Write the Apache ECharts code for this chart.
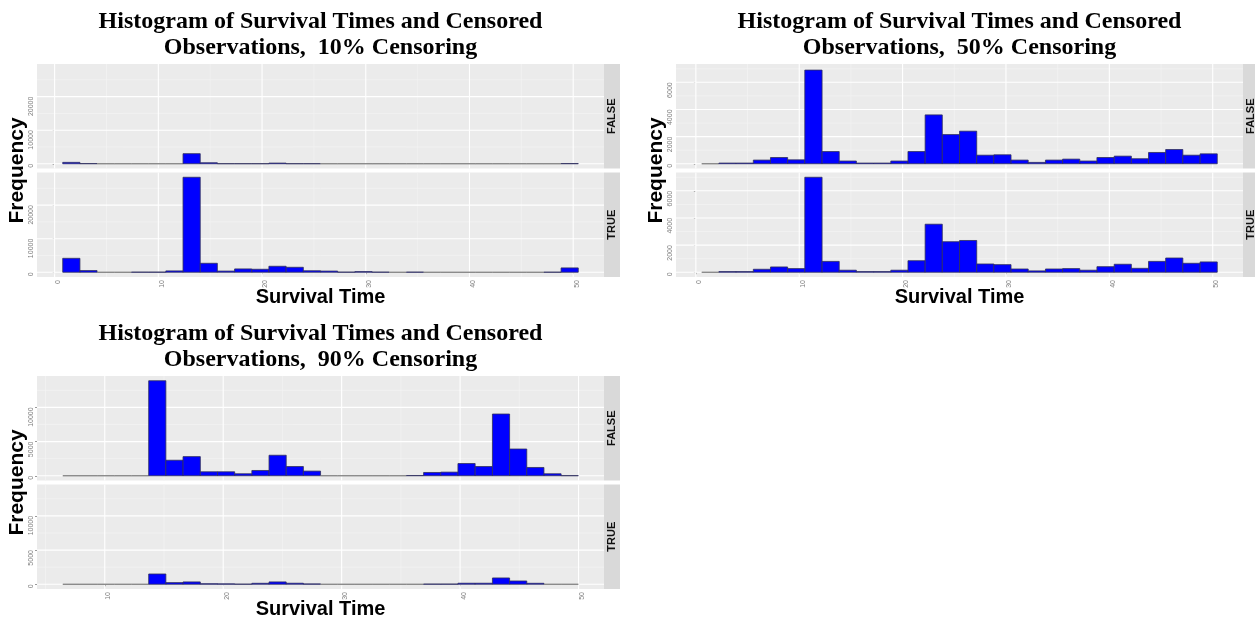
<!DOCTYPE html>
<html><head><meta charset="utf-8">
<script src="https://cdn.jsdelivr.net/npm/echarts@6/dist/echarts.min.js"></script>
<style>html,body{margin:0;padding:0;background:#fff}#c{width:1255px;height:622px}</style>
</head><body><div id="c"></div>
<script>
// ---------- data ----------
const edges10 = [0.78,2.44,4.09,5.75,7.41,9.07,10.72,12.38,14.04,15.69,17.35,19.01,20.66,22.32,23.98,25.64,27.29,28.95,30.61,32.26,33.92,35.58,37.23,38.89,40.55,42.21,43.86,45.52,47.18,48.83,50.49];
const false10 = [410,50,0,0,0,0,0,3000,300,20,20,20,200,20,20,0,0,0,0,0,0,0,0,0,0,0,0,0,0,60];
const true10  = [4150,500,0,0,50,50,400,28300,2670,350,990,890,1780,1480,450,350,50,200,50,0,50,0,0,0,0,0,0,0,30,1290];

const edges50 = [0.57,2.23,3.90,5.56,7.22,8.88,10.54,12.21,13.87,15.53,17.19,18.86,20.52,22.18,23.84,25.51,27.17,28.83,30.49,32.15,33.82,35.48,37.14,38.80,40.47,42.13,43.79,45.45,47.11,48.78,50.44];
const false50 = [0,50,50,270,460,290,6900,900,200,50,50,200,900,3600,2150,2400,630,660,270,100,270,340,200,460,560,370,830,1050,630,730];
const true50  = [0,50,50,220,390,270,7000,800,150,50,50,150,850,3540,2250,2340,610,560,240,100,240,270,150,410,590,290,800,1050,660,760];

const edges90 = [6.46,7.91,9.36,10.81,12.26,13.71,15.16,16.61,18.07,19.52,20.97,22.42,23.87,25.32,26.77,28.22,29.67,31.12,32.57,34.02,35.47,36.92,38.37,39.82,41.27,42.73,44.18,45.63,47.08,48.53,49.98];
const false90 = [0,0,0,0,0,13900,2270,2800,580,580,290,770,3000,1350,680,0,0,0,0,0,30,480,530,1790,1350,9030,3910,1210,290,20];
const true90  = [0,0,0,0,0,1500,240,340,80,60,20,140,340,150,50,0,0,0,0,0,0,30,30,150,150,920,480,140,0,0];

const xTicks10 = [0,10,20,30,40,50], xMinor10 = [5,15,25,35,45];
const yTicks10 = [0,10000,20000],   yMinor10 = [5000,15000,25000];
const xTicks50 = [0,10,20,30,40,50], xMinor50 = [5,15,25,35,45];
const yTicks50 = [0,2000,4000,6000], yMinor50 = [1000,3000,5000,7000];
const xTicks90 = [10,20,30,40,50],   xMinor90 = [5,15,25,35,45];
const yTicks90 = [0,5000,10000],     yMinor90 = [2500,7500,12500];

const facetLabels = ['FALSE','TRUE'];
const titleLine1 = 'Histogram of Survival Times and Censored';
const titles2 = ['Observations,  10% Censoring','Observations,  50% Censoring','Observations,  90% Censoring'];
const xName = 'Survival Time', yName = 'Frequency';

// ---------- layout ----------
const panels = [
  {edges:edges10, f:false10, t:true10, xr:[-1.70,52.97], yr:[-1415,29715], xT:xTicks10, xM:xMinor10, yT:yTicks10, yM:yMinor10, left:37, top:64, t2:titles2[0]},
  {edges:edges50, f:false50, t:true50, xr:[-1.92,52.93], yr:[-350,7350],   xT:xTicks50, xM:xMinor50, yT:yTicks50, yM:yMinor50, left:676, top:64, t2:titles2[1]},
  {edges:edges90, f:false90, t:true90, xr:[4.28,52.15],  yr:[-695,14595],  xT:xTicks90, xM:xMinor90, yT:yTicks90, yM:yMinor90, left:37, top:376, t2:titles2[2]}
];
const PW = 567, PH = 104.5, GAP = 4, STRIP = 16;
const grids = [], xAxes = [], yAxes = [], series = [], graphics = [];
const tickColor = '#7f7f7f';
const plain = v => String(v);

function hLine(color, w){
  return function(params, api){
    const cs = params.coordSys; const y = api.coord([api.value(0), api.value(1)])[1];
    return {type:'line', shape:{x1:cs.x, y1:y, x2:cs.x+cs.width, y2:y}, style:{stroke:color, lineWidth:w}};
  };
}
function vLine(color, w){
  return function(params, api){
    const cs = params.coordSys; const x = api.coord([api.value(0), api.value(1)])[0];
    return {type:'line', shape:{x1:x, y1:cs.y, x2:x, y2:cs.y+cs.height}, style:{stroke:color, lineWidth:w}};
  };
}
function barRender(params, api){
  const p0 = api.coord([api.value(0), 0]);
  const p1 = api.coord([api.value(1), api.value(2)]);
  return {type:'rect', shape:{x:p0[0], y:p1[1], width:p1[0]-p0[0], height:p0[1]-p1[1]},
          style:{fill:'#0000FF', stroke:api.value(2) > 0 ? '#30305a' : '#777777', lineWidth:0.8}};
}

panels.forEach((p, pi) => {
  [p.f, p.t].forEach((counts, fi) => {
    const gi = grids.length;
    const top = p.top + fi*(PH+GAP);
    const bottom = fi === 1;
    grids.push({left:p.left, top:top, width:PW, height:PH, show:true, backgroundColor:'#EBEBEB', borderWidth:0, containLabel:false});
    xAxes.push({gridIndex:gi, type:'value', min:p.xr[0], max:p.xr[1],
      axisLine:{show:false}, splitLine:{show:false},
      axisTick:{show:bottom, customValues:p.xT, length:2, lineStyle:{color:tickColor, width:0.8}},
      axisLabel:{show:bottom, customValues:p.xT, rotate:90, verticalAlign:'top', fontSize:7, color:tickColor, margin:3, fontFamily:'Liberation Sans', formatter:plain}});
    yAxes.push({gridIndex:gi, type:'value', min:p.yr[0], max:p.yr[1],
      axisLine:{show:false}, splitLine:{show:false},
      axisTick:{show:true, customValues:p.yT, length:2, lineStyle:{color:tickColor, width:0.8}},
      axisLabel:{customValues:p.yT, rotate:90, align:'right', fontSize:7, color:tickColor, margin:2, fontFamily:'Liberation Sans', formatter:plain}});
    const base = {xAxisIndex:gi, yAxisIndex:gi, type:'custom', silent:true, animation:false};
    series.push(Object.assign({}, base, {z:1, renderItem:hLine('#F5F5F5',0.6), data:p.yM.map(v=>[p.xr[0], v])}));
    series.push(Object.assign({}, base, {z:1, renderItem:vLine('#F5F5F5',0.6), data:p.xM.map(v=>[v, p.yr[0]])}));
    series.push(Object.assign({}, base, {z:2, renderItem:hLine('#FFFFFF',1.1), data:p.yT.map(v=>[p.xr[0], v])}));
    series.push(Object.assign({}, base, {z:2, renderItem:vLine('#FFFFFF',1.1), data:p.xT.map(v=>[v, p.yr[0]])}));
    series.push(Object.assign({}, base, {z:3, renderItem:barRender, encode:{x:[0,1], y:2},
      data:counts.map((c,i)=>[p.edges[i], p.edges[i+1], c])}));
    // strip
    graphics.push({type:'rect', silent:true, shape:{x:p.left+PW, y:top, width:STRIP, height:PH}, style:{fill:'#D9D9D9'}});
    graphics.push({type:'text', silent:true, x:p.left+PW+STRIP/2, y:top+PH/2, rotation:Math.PI/2,
      style:{text:facetLabels[fi], font:'bold 11px "Liberation Sans"', fill:'#111', textAlign:'center', textVerticalAlign:'middle', align:'center', verticalAlign:'middle'}});
  });
  const cx = p.left + PW/2;
  graphics.push({type:'text', silent:true, x:cx, y:p.top-42, style:{text:titleLine1, font:'bold 24px "Liberation Serif"', fill:'#000', textAlign:'center', textVerticalAlign:'middle', align:'center', verticalAlign:'middle'}});
  graphics.push({type:'text', silent:true, x:cx, y:p.top-16, style:{text:p.t2, font:'bold 24px "Liberation Serif"', fill:'#000', textAlign:'center', textVerticalAlign:'middle', align:'center', verticalAlign:'middle'}});
  graphics.push({type:'text', silent:true, x:cx, y:p.top+2*PH+GAP+20, style:{text:xName, font:'bold 20px "Liberation Sans"', fill:'#000', textAlign:'center', textVerticalAlign:'middle', align:'center', verticalAlign:'middle'}});
  graphics.push({type:'text', silent:true, x:p.left-20, y:p.top+PH+GAP/2, rotation:Math.PI/2, style:{text:yName, font:'bold 21px "Liberation Sans"', fill:'#000', textAlign:'center', textVerticalAlign:'middle', align:'center', verticalAlign:'middle'}});
});

const chart = echarts.init(document.getElementById('c'), null, {renderer:'canvas'});
chart.setOption({animation:false, grid:grids, xAxis:xAxes, yAxis:yAxes, series:series, graphic:{elements:graphics}});
</script></body></html>
